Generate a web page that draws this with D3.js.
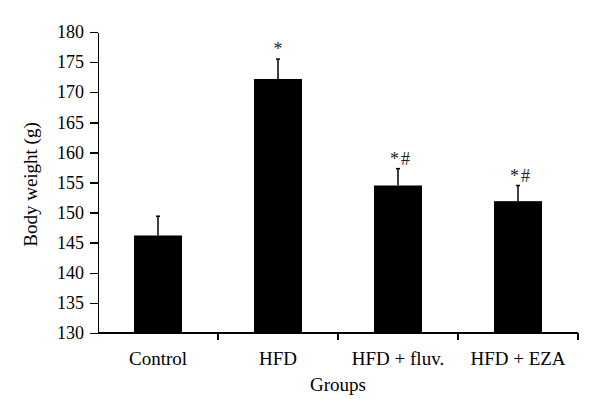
<!DOCTYPE html>
<html lang="en">
<meta charset="utf-8"/>
<head>
<script src="https://d3js.org/d3.v7.min.js"></script>
</head>
<style>
  body { margin: 0; background: #fff; }
  .axis text { font-family: "Liberation Serif", serif; font-size: 18px; fill: #000; }
  .axis text.lab { font-size: 19px; }
  .axis path, .axis line { stroke: #000; stroke-width: 1.5; shape-rendering: crispEdges; }
  .title { font-family: "Liberation Serif", serif; font-size: 19px; fill: #000; }
  .sig { font-family: "Liberation Serif", serif; font-size: 18px; fill: #222; letter-spacing: 2px; }
</style>
<body>
<script>
// values
var groups = ["Control", "HFD", "HFD + fluv.", "HFD + EZA"];
var weights = [146.2, 172.2, 154.5, 151.9];
var errors = [3.2, 3.3, 2.8, 2.6];
var marks = ["", "*", "*#", "*#"];
var yTicks = [130, 135, 140, 145, 150, 155, 160, 165, 170, 175, 180];

var margin = {top: 32, right: 22, bottom: 86, left: 98},
    width = 600 - margin.left - margin.right,
    height = 419 - margin.top - margin.bottom;

var svg = d3.select("body").append("svg")
    .attr("width", 600)
    .attr("height", 419)
  .append("g")
    .attr("transform", "translate(" + margin.left + "," + margin.top + ")");

var x = d3.scaleBand()
    .domain(groups)
    .range([0, width])
    .paddingInner(0.6)
    .paddingOuter(0.3);

var y = d3.scaleLinear()
    .domain([130, 180])
    .range([height, 0]);

// y axis
svg.append("g")
    .attr("class", "axis")
    .call(d3.axisLeft(y).tickValues(yTicks).tickSize(8).tickPadding(6).tickSizeOuter(0));

// x axis with ticks between groups
var step = width / groups.length;
var xb = svg.append("g")
    .attr("class", "axis")
    .attr("transform", "translate(0," + height + ")");
xb.append("line").attr("x1", 0).attr("x2", width).attr("y1", 0).attr("y2", 0);
xb.selectAll(".tk")
    .data(d3.range(1, groups.length + 1))
    .enter().append("line")
    .attr("x1", function(d) { return d * step; })
    .attr("x2", function(d) { return d * step; })
    .attr("y1", 0)
    .attr("y2", 7);
xb.selectAll(".lab")
    .data(groups)
    .enter().append("text")
    .attr("class", "lab")
    .attr("x", function(d) { return x(d) + x.bandwidth() / 2; })
    .attr("y", 32)
    .attr("text-anchor", "middle")
    .text(function(d) { return d; });

// bars
svg.selectAll(".bar")
    .data(weights)
    .enter().append("rect")
    .attr("x", function(d, i) { return x(groups[i]); })
    .attr("width", x.bandwidth())
    .attr("y", function(d) { return y(d); })
    .attr("height", function(d) { return height - y(d); })
    .attr("fill", "#000");

// error bars
var eb = svg.selectAll(".err")
    .data(weights)
    .enter().append("g")
    .attr("stroke", "#000")
    .attr("stroke-width", 1.5);
eb.append("line")
    .attr("x1", function(d, i) { return x(groups[i]) + x.bandwidth() / 2; })
    .attr("x2", function(d, i) { return x(groups[i]) + x.bandwidth() / 2; })
    .attr("y1", function(d) { return y(d); })
    .attr("y2", function(d, i) { return y(d + errors[i]); });
eb.append("line")
    .attr("x1", function(d, i) { return x(groups[i]) + x.bandwidth() / 2 - 2; })
    .attr("x2", function(d, i) { return x(groups[i]) + x.bandwidth() / 2 + 2; })
    .attr("y1", function(d, i) { return y(d + errors[i]); })
    .attr("y2", function(d, i) { return y(d + errors[i]); });

// significance marks
svg.selectAll(".sig")
    .data(marks)
    .enter().append("text")
    .attr("class", "sig")
    .attr("x", function(d, i) { return x(groups[i]) + x.bandwidth() / 2 + (d.length > 1 ? 3 : 1); })
    .attr("y", function(d, i) { return y(weights[i] + errors[i]) - 4; })
    .attr("text-anchor", "middle")
    .text(function(d) { return d; });

// axis titles
svg.append("text")
    .attr("class", "title")
    .attr("text-anchor", "middle")
    .attr("x", width / 2)
    .attr("y", height + 58)
    .text("Groups");

svg.append("text")
    .attr("class", "title")
    .attr("text-anchor", "middle")
    .attr("transform", "translate(-61," + (height / 2 + 2) + ") rotate(-90)")
    .text("Body weight (g)");
</script>
</body>
</html>
